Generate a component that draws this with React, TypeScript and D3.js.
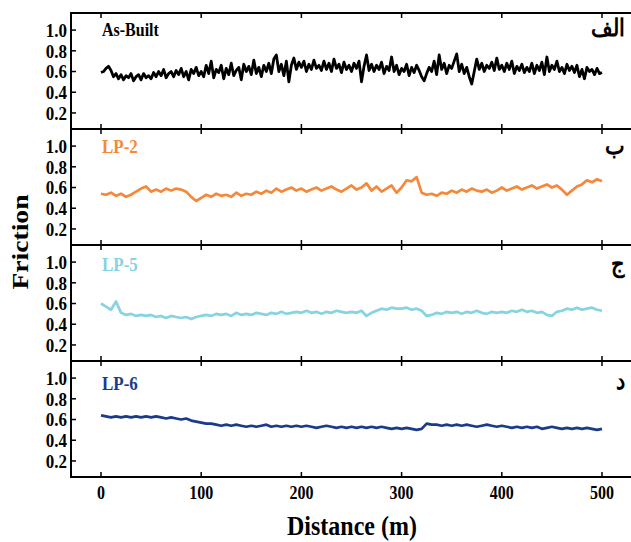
import React from "react";
import * as d3 from "d3";

const xTicks = [0, 100, 200, 300, 400, 500];
const yTicks = [0.2, 0.4, 0.6, 0.8, 1.0];

const asBuiltStep = 2.5;
const asBuilt = [
  0.59,0.60,0.63,0.65,0.61,0.55,0.58,0.53,0.57,0.52,
  0.56,0.54,0.58,0.51,0.55,0.57,0.52,0.58,0.54,0.56,
  0.53,0.59,0.55,0.60,0.56,0.62,0.54,0.58,0.60,0.55,
  0.61,0.57,0.63,0.55,0.60,0.52,0.62,0.58,0.64,0.56,
  0.60,0.55,0.66,0.58,0.70,0.54,0.62,0.59,0.66,0.53,
  0.63,0.57,0.68,0.56,0.61,0.64,0.52,0.67,0.60,0.65,
  0.57,0.71,0.58,0.64,0.55,0.66,0.60,0.68,0.58,0.72,
  0.76,0.60,0.67,0.56,0.70,0.50,0.66,0.73,0.62,0.69,
  0.64,0.70,0.60,0.67,0.62,0.71,0.63,0.66,0.61,0.70,
  0.62,0.68,0.60,0.72,0.63,0.67,0.59,0.69,0.62,0.66,
  0.60,0.68,0.63,0.70,0.50,0.65,0.76,0.61,0.67,0.60,
  0.66,0.62,0.69,0.58,0.65,0.61,0.74,0.60,0.66,0.57,
  0.63,0.60,0.67,0.56,0.64,0.59,0.66,0.61,0.55,0.51,
  0.58,0.64,0.60,0.70,0.57,0.76,0.62,0.68,0.58,0.66,
  0.63,0.70,0.77,0.60,0.67,0.58,0.64,0.55,0.48,0.60,
  0.72,0.62,0.68,0.60,0.66,0.63,0.69,0.61,0.73,0.62,
  0.66,0.60,0.68,0.62,0.70,0.58,0.65,0.61,0.67,0.59,
  0.64,0.60,0.68,0.58,0.66,0.61,0.69,0.57,0.74,0.60,
  0.66,0.62,0.70,0.60,0.64,0.58,0.67,0.61,0.65,0.59,
  0.66,0.55,0.62,0.53,0.64,0.60,0.62,0.57,0.63,0.58,
  0.59,
];

const lpStep = 5;
const lp2 = [
  0.54,0.53,0.55,0.52,0.54,0.51,0.53,0.56,0.59,0.61,
  0.56,0.58,0.56,0.59,0.57,0.59,0.58,0.56,0.51,0.47,
  0.50,0.53,0.51,0.54,0.52,0.53,0.51,0.55,0.52,0.54,
  0.53,0.56,0.54,0.57,0.55,0.59,0.56,0.58,0.60,0.57,
  0.59,0.56,0.58,0.60,0.57,0.59,0.61,0.58,0.56,0.59,
  0.62,0.58,0.60,0.64,0.57,0.61,0.56,0.59,0.62,0.55,
  0.60,0.67,0.66,0.70,0.55,0.53,0.54,0.52,0.55,0.54,
  0.57,0.55,0.58,0.56,0.59,0.57,0.56,0.58,0.55,0.57,
  0.60,0.57,0.59,0.61,0.58,0.60,0.62,0.59,0.61,0.63,
  0.60,0.62,0.58,0.53,0.57,0.61,0.63,0.67,0.65,0.68,
  0.66,
];
const lp5 = [
  0.60,0.57,0.54,0.62,0.51,0.49,0.50,0.48,0.49,0.48,
  0.49,0.47,0.48,0.46,0.48,0.47,0.46,0.47,0.45,0.47,
  0.48,0.49,0.48,0.50,0.49,0.50,0.48,0.51,0.49,0.50,
  0.49,0.51,0.50,0.49,0.51,0.50,0.52,0.50,0.51,0.52,
  0.51,0.53,0.51,0.52,0.50,0.52,0.51,0.53,0.52,0.51,
  0.52,0.51,0.53,0.48,0.51,0.53,0.55,0.54,0.56,0.55,
  0.55,0.56,0.54,0.55,0.53,0.48,0.49,0.51,0.50,0.52,
  0.51,0.52,0.50,0.52,0.51,0.53,0.51,0.50,0.52,0.51,
  0.52,0.51,0.53,0.52,0.54,0.52,0.53,0.51,0.52,0.49,
  0.48,0.52,0.53,0.55,0.54,0.56,0.54,0.55,0.56,0.54,
  0.53,
];
const lp6 = [
  0.64,0.63,0.62,0.63,0.62,0.63,0.62,0.63,0.62,0.63,
  0.62,0.63,0.62,0.61,0.62,0.61,0.60,0.61,0.59,0.58,
  0.57,0.56,0.56,0.55,0.54,0.55,0.54,0.55,0.54,0.53,
  0.54,0.53,0.54,0.55,0.53,0.54,0.53,0.54,0.53,0.54,
  0.53,0.54,0.53,0.52,0.53,0.54,0.53,0.52,0.53,0.52,
  0.53,0.52,0.53,0.52,0.53,0.52,0.53,0.52,0.51,0.52,
  0.51,0.52,0.51,0.50,0.51,0.56,0.55,0.55,0.54,0.55,
  0.54,0.55,0.54,0.55,0.54,0.53,0.54,0.55,0.54,0.53,
  0.54,0.53,0.52,0.53,0.52,0.53,0.52,0.53,0.51,0.52,
  0.53,0.52,0.51,0.52,0.51,0.52,0.51,0.52,0.51,0.50,
  0.51,
];

const seriesNames = ["As-Built", "LP-2", "LP-5", "LP-6"];
const panelTags = ["الف", "ب", "ج", "د"];
const seriesData = [asBuilt, lp2, lp5, lp6];
const seriesSteps = [asBuiltStep, lpStep, lpStep, lpStep];
const colors = ["#000000", "#F5883B", "#86D3E1", "#1B3A8A"];

const W = 631;
const H = 542;
const left = 71;
const right = 640;
const top = 13;
const panelH = 116;
const FONT = "'Liberation Serif', 'Times New Roman', serif";
const STRETCH = 1.15;

function T(props: {
  x: number;
  y: number;
  size: number;
  anchor?: string;
  fill?: string;
  dy?: string;
  children: React.ReactNode;
}) {
  return (
    <text
      transform={`translate(${props.x},${props.y}) scale(1,${STRETCH})`}
      textAnchor={props.anchor || "start"}
      fontSize={props.size}
      fontWeight="bold"
      fill={props.fill || "#000"}
      dy={props.dy}
    >
      {props.children}
    </text>
  );
}

export default function App() {
  const x = d3.scaleLinear().domain([0, 500]).range([101, 602]);
  const yFor = (i: number) =>
    d3.scaleLinear().domain([0.045, 1.165]).range([top + (i + 1) * panelH, top + i * panelH]);

  const labelBase = [36, 153, 271, 390];
  const tagBase = [36, 154, 272, 389];

  return (
    <svg width={W} height={H} style={{ position: "absolute", left: 0, top: 0, background: "#fff" }} fontFamily={FONT}>
      {seriesData.map((vals, i) => {
        const y = yFor(i);
        const pts: [number, number][] = vals.map((v, k) => [k * seriesSteps[i], v]);
        const line = d3.line<[number, number]>().x((d) => x(d[0])).y((d) => y(d[1]));
        const y0 = top + i * panelH;
        const y1 = top + (i + 1) * panelH;
        return (
          <g key={i}>
            <path d={line(pts) || ""} fill="none" stroke={colors[i]} strokeWidth={i === 0 ? 2.8 : 2.7} strokeLinejoin="round" />
            {yTicks.map((t) => (
              <g key={t}>
                <line x1={left} x2={left + 5} y1={y(t)} y2={y(t)} stroke="#000" strokeWidth={1.5} />
                <T x={left - 4} y={y(t)} size={17} anchor="end" dy="0.35em">
                  {t.toFixed(1)}
                </T>
              </g>
            ))}
            {xTicks.map((t) => (
              <g key={"x" + t}>
                <line x1={x(t)} x2={x(t)} y1={y0} y2={y0 + 5} stroke="#000" strokeWidth={1.5} />
                <line x1={x(t)} x2={x(t)} y1={y1} y2={y1 - 5} stroke="#000" strokeWidth={1.5} />
              </g>
            ))}
            <line x1={left} x2={right} y1={y0} y2={y0} stroke="#000" strokeWidth={2} />
            <T x={102} y={labelBase[i]} size={i === 0 ? 16 : 17} fill={colors[i]}>
              {seriesNames[i]}
            </T>
            <T x={625} y={tagBase[i]} size={21} anchor="end">
              {panelTags[i]}
            </T>
          </g>
        );
      })}
      <line x1={left} x2={right} y1={top + 4 * panelH} y2={top + 4 * panelH} stroke="#000" strokeWidth={2} />
      <line x1={left} x2={left} y1={top - 1} y2={top + 4 * panelH + 1} stroke="#000" strokeWidth={2} />
      {xTicks.map((t) => (
        <T key={t} x={x(t)} y={499} size={16} anchor="middle">
          {t}
        </T>
      ))}
      <T x={352} y={535} size={24} anchor="middle">
        Distance (m)
      </T>
      <text
        transform={`translate(28,242) rotate(-90) scale(${STRETCH},1)`}
        textAnchor="middle"
        fontSize={24}
        fontWeight="bold"
      >
        Friction
      </text>
    </svg>
  );
}
